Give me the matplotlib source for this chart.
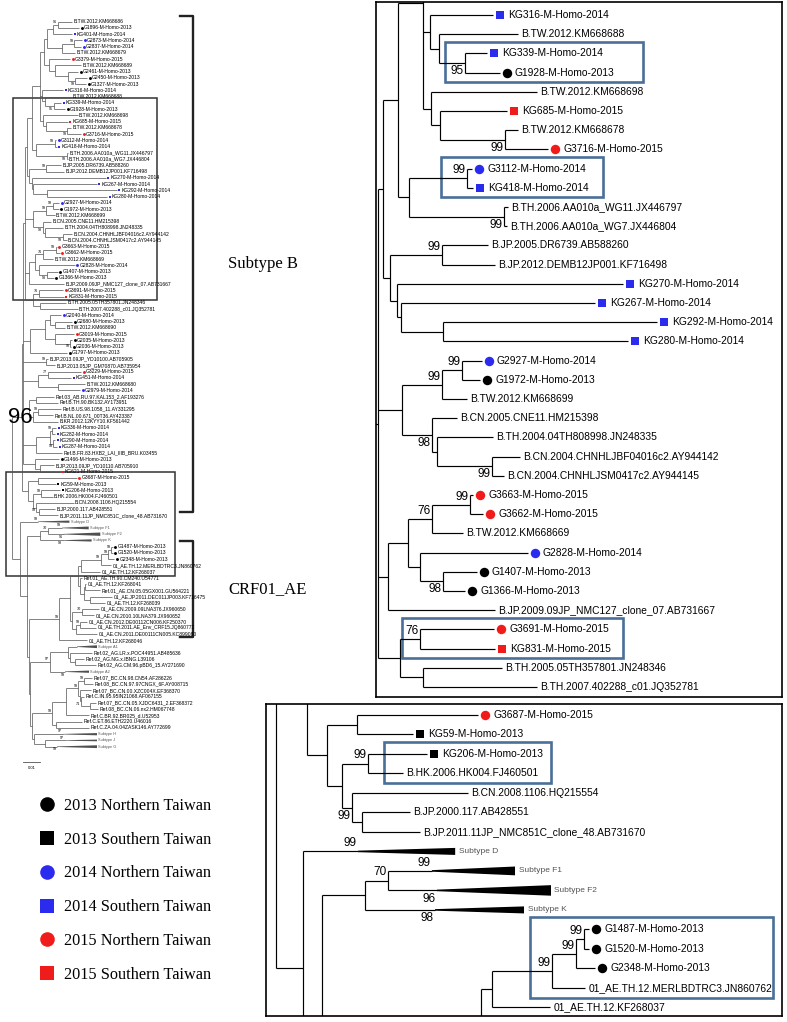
import matplotlib.pyplot as plt
from matplotlib import transforms
from matplotlib.lines import Line2D
from matplotlib.patches import Polygon, Rectangle

plt.rcParams['font.family'] = ['Liberation Sans', 'DejaVu Sans']

# ---------------------------------------------------------------- tree data
# Newick pieces, branch lengths in tree units (scale bar: 17 units = 0.01 subst./site)
B_TOP_A = "((B.TW.2012.KM668686:14,G1896-M-Homo-2013:21)96:5,KG401-M-Homo-2014:19):6"
B_TOP_B = "((G2873-M-Homo-2014:8,G2837-M-Homo-2014:7)99:12,B.TW.2012.KM668679:13):15"
B_TOP_C = ("(G3379-M-Homo-2015:21,(B.TW.2012.KM668689:26,(G2461-M-Homo-2013:10,"
           "(G2450-M-Homo-2013:12,G1327-M-Homo-2013:11)99:7):13):6):5")
B_KG316 = ("(KG316-M-Homo-2014:20.6,(B.TW.2012.KM668688:25.9,"
           "(KG339-M-Homo-2014:7.3,G1928-M-Homo-2013:11.5)95:8.5):2.9):2.4")
B_KG685 = ("(B.TW.2012.KM668698:34.8,(KG685-M-Homo-2015:21.9,"
           "(B.TW.2012.KM668678:4.2,G3716-M-Homo-2015:14.1)99:21.3):3):2.7")
B_G3112 = ("((G3112-M-Homo-2014:1.7,KG418-M-Homo-2014:2)99:19,"
           "(B.TH.2006.AA010a_WG11.JX446797:1.3,B.TH.2006.AA010a_WG7.JX446804:0.8)99:31.2):3.6")
B_KG270 = ("((B.JP.2005.DR6739.AB588260:15.1,B.JP.2012.DEMB12JP001.KF716498:17.4)99:17,"
           "(KG270-M-Homo-2014:74.1,(KG267-M-Homo-2014:63.6,"
           "(KG292-M-Homo-2014:70.2,KG280-M-Homo-2014:60.7):13.7):1.3):2.3):2.3")
B_G2927 = ("(((G2927-M-Homo-2014:6.5,G1972-M-Homo-2013:5.9)99:6.6,B.TW.2012.KM668699:8.2)99:13.1,"
           "(B.CN.2005.CNE11.HM215398:8.2,(B.TH.2004.04TH808998.JN248335:18.3,"
           "(B.CN.2004.CHNHLJBF04016c2.AY944142:9.1,B.CN.2004.CHNHLJSM0417c2.AY944145:3.8)99:18.1)"
           ":1.7)98:9.8):7.9")
B_G3663 = ("((((G3663-M-Homo-2015:1,G3662-M-Homo-2015:4.3)99:12.5,B.TW.2012.KM668669:10.2)76:7.8,"
           "(G2828-M-Homo-2014:35.4,(G1407-M-Homo-2013:11.2,G1366-M-Homo-2013:7.3)98:7.5):3.9):6.6,"
           "B.JP.2009.09JP_NMC127_clone_07.AB731667:35.1):3.3")
B_G3691 = ("((G3691-M-Homo-2015:24.3,KG831-M-Homo-2015:24.5)76:6.6,"
           "(B.TH.2005.05TH357801.JN248346:25.9,B.TH.2007.402288_c01.JQ352781:37.4):7.6):7.2")
B_G2040 = ("(((G2040-M-Homo-2014:11,(G2680-M-Homo-2013:17,B.TW.2012.KM668690:10):5):5,"
           "(G3019-M-Homo-2015:19,(G2035-M-Homo-2013:2,G2036-M-Homo-2013:1)99:15):10):15,"
           "G1797-M-Homo-2013:37):7")
B_JP13 = "(B.JP.2013.09JP_YD10100.AB705905:2,B.JP.2013.05JP_GM70870.AB735954:9)99:23"
B_G3229 = ("((G3229-M-Homo-2015:33,KG451-M-Homo-2014:23)77:10,"
           "(B.TW.2012.KM668680:27,G2979-M-Homo-2014:22):20):15")
B_REF = ("((Ref.03_AB.RU.97.KAL153_2.AF193276:18,Ref.B.TH.90.BK132.AY173951:22):7,"
         "((Ref.B.US.98.1058_11.AY331295:23,Ref.B.NL.00.671_00T36.AY423387:15)99:5,"
         "B.KR.2012.12KYY10.KF561442:25):4):6")
B_KG336 = ("(((KG336-M-Homo-2014:4,KG282-M-Homo-2014:3)99:2,(KG290-M-Homo-2014:2,KG287-M-Homo-2014:4)99:3)"
           ":14,Ref.B.FR.83.HXB2_LAI_IIIB_BRU.K03455:26):13")
B_G1466 = "(G1466-M-Homo-2013:24,(B.JP.2013.09JP_YD10110.AB705910:14,KG621-M-Homo-2015:20):5):12"
B_G3687 = ("((G3687-M-Homo-2015:39.1,KG59-M-Homo-2013:18.1):9.7,"
           "((KG206-M-Homo-2013:19,B.HK.2006.HK004.FJ460501:11.3)99:8.3,"
           "(B.CN.2008.1106.HQ215554:37.5,(B.JP.2000.117.AB428551:15.4,"
           "B.JP.2011.11JP_NMC851C_clone_48.AB731670:18.6):3.4)99:3):5):6.3")

FK_GROUP = "((Subtype F1:14.2,Subtype F2:15.8)70:7.4,Subtype K:22.6):13.8"
AE_G1487 = ("((((G1487-M-Homo-2013:1.6,G1520-M-Homo-2013:1.6)99:2.6,G2348-M-Homo-2013:6.1)99:7.8,"
            "01_AE.TH.12.MERLBDTRC3.JN860762:10.7)99:19.3,01_AE.TH.12.KF268037:18.7):3.6")
AE_REF = ("(Ref.01_AE.TH.90.CM240.U54771:2,((01_AE.TH.12.KF268041:1,"
          "Ref.01_AE.CN.05.05GX001.GU564221:15):1,(01_AE.JP.2011.DEC011JP003.KF716475:22,"
          "01_AE.TH.12.KF268039:15):6):4):2.3")
AE_CN = ("((01_AE.CN.2009.09LNA376.JX960650:17,01_AE.CN.2010.10LNA379.JX960652:12)70:10,"
         "((01_AE.CN.2012.DE00112CN006.KF250370:7,01_AE.TH.2011.AE_Env_CRF15.JQ860772:16)99:4,"
         "01_AE.CN.2011.DE00111CN005.KC899080:21):4):2")
A_GROUP = ("((Subtype A1:9,(Ref.02_AG.LR.x.POC44951.AB485636:22,(Ref.02_AG.NG.x.IBNG.L39106:9,"
           "Ref.02_AG.CM.96.pBD6_15.AY271690:21):5):2):18,Subtype A2:15)97:20")
C_GROUP = ("((((Ref.07_BC.CN.98.CN54.AF286226:8,Ref.08_BC.CN.97.97CNGX_6F.AY008715:9)99:6,"
           "(Ref.07_BC.CN.00.XZC004X.EF368370:11,(Ref.C.IN.95.95IN21068.AF067155:3,"
           "(Ref.07_BC.CN.05.XJDC6431_2.EF368372:6,Ref.08_BC.CN.06.nx2.HM067748:8):9)71:1):2)99:12,"
           "Ref.C.BR.92.BR025_d.U52953:23):14,(Ref.C.ET.86.ETH2220.U46016:26,"
           "Ref.C.ZA.04.04ZASK146.AY772699:33):4)99:20.5")
HJG_GROUP = "(Subtype H:29.5,(Subtype J:20,Subtype G:12):11.5):2"

B_FIRST = f"(({B_TOP_A},{B_TOP_B}):3,{B_TOP_C}):4"
B_MAIN = (f"(((({B_FIRST},{B_KG316},{B_KG685}):8.1,{B_G3112}):4.9,{B_KG270}):1.7,"
          f"{B_G2927},{B_G3663},{B_G3691}):2.3")
SUBTYPE_B = f"(({B_MAIN},{B_G2040},{B_JP13},{B_G3229},{B_REF},{B_KG336},{B_G1466}):1.3,{B_G3687}):10"
CRF01_AE = f"((({AE_G1487},{AE_REF}):7.7,{AE_CN}):11,01_AE.TH.12.KF268046:28)99:30.5"
NON_B = f"(Subtype D:17.8,({FK_GROUP},({CRF01_AE},({A_GROUP},({C_GROUP},{HJG_GROUP}):1.5):1.5):2):6.2):8.6"
TREE = f"({SUBTYPE_B},{NON_B});"

# collapsed subtrees: depth of triangle, number of taxa, bootstrap
COLLAPSED = {
    'Subtype D': (31.3, 4, '99'),
    'Subtype F1': (26.8, 5, '99'),
    'Subtype F2': (36.8, 6, '96'),
    'Subtype K': (28.7, 4, '98'),
    'Subtype A1': (20, 5, ''),
    'Subtype A2': (24, 4, '99'),
    'Subtype H': (34, 4, '97'),
    'Subtype J': (32, 3, '97'),
    'Subtype G': (40, 5, '99'),
}
B_SUPPORT = '96'
SCALE_BAR = (17, '0.01')

YEAR_COLORS = {'2013': 'black', '2014': '#2b2bf0', '2015': '#f01c1c'}
REGION_MARKERS = {'Northern': 'o', 'Southern': 's'}
LEGEND_GROUPS = [('2013', 'Northern'), ('2013', 'Southern'), ('2014', 'Northern'),
                 ('2014', 'Southern'), ('2015', 'Northern'), ('2015', 'Southern')]
CLADE_BRACKETS = [('Subtype B', 'B.TW.2012.KM668686', 'B.JP.2011.11JP_NMC851C_clone_48.AB731670'),
                  ('CRF01_AE', 'G1487-M-Homo-2013', '01_AE.TH.12.KF268046')]
BOXES_TOP = [('KG339-M-Homo-2014', 'G1928-M-Homo-2013', 35.6, 100.5),
             ('G3112-M-Homo-2014', 'KG418-M-Homo-2014', 34.3, 87.4),
             ('G3691-M-Homo-2015', 'KG831-M-Homo-2015', 21.5, 94.0)]
BOXES_BOTTOM = [('KG206-M-Homo-2013', 'B.HK.2006.HK004.FJ460501', 34.8, 88.6),
                ('G1487-M-Homo-2013', '01_AE.TH.12.MERLBDTRC3.JN860762', 81.8, 160.2)]


def parse_newick(text):
    pos = 0

    def node():
        nonlocal pos
        n = {'children': [], 'name': '', 'length': 0.0}
        if text[pos] == '(':
            pos += 1
            while True:
                n['children'].append(node())
                ch = text[pos]
                pos += 1
                if ch == ')':
                    break
        start = pos
        while text[pos] not in ':,);':
            pos += 1
        n['name'] = text[start:pos]
        if text[pos] == ':':
            pos += 1
            start = pos
            while text[pos] not in ',);':
                pos += 1
            n['length'] = float(text[start:pos])
        return n

    return node()


def layout(n, x0, leaves):
    n['x'] = x0 + n['length']
    if n['children']:
        for c in n['children']:
            layout(c, n['x'], leaves)
        n['y'] = (n['children'][0]['y'] + n['children'][-1]['y']) / 2
        n['rows'] = (n['children'][0]['rows'][0], n['children'][-1]['rows'][1])
    else:
        n['y'] = len(leaves)
        n['rows'] = (n['y'], n['y'])
        leaves.append(n)


def mrca(n, r0, r1):
    for c in n['children']:
        if c['rows'][0] <= r0 and c['rows'][1] >= r1:
            return mrca(c, r0, r1)
    return n


def leaf_style(name):
    if name.startswith('KG'):
        region = 'Southern'
    elif name.startswith('G') and name[1].isdigit():
        region = 'Northern'
    else:
        return None
    return REGION_MARKERS[region], YEAR_COLORS[name[-4:]]


def shift(ax, dx):
    return transforms.offset_copy(ax.transData, fig=ax.figure, x=dx, y=0, units='dots')


BS_FONT = ['Liberation Sans Narrow', 'Liberation Sans']


def draw_node(ax, n, st, rows, parent_x=None, last=False):
    # rows: (first, last) visible row range; labels outside it are not drawn
    x, y = n['x'], n['y']
    shown = rows[0] <= y <= rows[1]
    kw = dict(color=st['line'], lw=st['lw'], solid_capstyle='butt')
    if parent_x is not None:
        ax.plot([parent_x, x], [y, y], **kw)
    support = n['name'] if n['children'] else ''
    if n['children']:
        kids = n['children']
        ax.plot([x, x], [kids[0]['y'], kids[-1]['y']], **kw)
        for i, c in enumerate(kids):
            draw_node(ax, c, st, rows, x, i == len(kids) - 1)
    elif n['name'] in COLLAPSED:
        depth, ntaxa, support = COLLAPSED[n['name']]
        h = 0.09 * ntaxa
        ax.add_patch(Polygon([(x, y - 0.04), (x + depth, y - h / 2), (x + depth, y + h / 2),
                              (x, y + 0.04)], closed=True, fc=st['line'], ec='none'))
        if shown:
            ax.text(x + depth, y, n['name'], transform=shift(ax, st['plain_dx']),
                    fontsize=st['sub_fs'], color='#555555', va='center', clip_on=True)
    elif shown:
        style = leaf_style(n['name'])
        dx = st['plain_dx']
        if style:
            ax.plot(x, y, ls='none', marker=style[0], color=style[1], ms=st['ms'][style[0]],
                    mew=0, transform=shift(ax, st['mark_dx']))
            dx = st['text_dx']
        ax.text(x, y, n['name'], transform=shift(ax, dx), fontsize=st['fs'],
                va='center', clip_on=True)
    if support and parent_x is not None:
        dy = st['bs_dy'] if last else -st['bs_dy']
        if rows[0] <= y + dy <= rows[1]:
            ax.text(x, y + dy, support, transform=shift(ax, -st['bs_gap']), ha='right',
                    va='center', fontsize=st['bs_fs'], family=BS_FONT, clip_on=True)


root = parse_newick(TREE)
leaves = []
layout(root, 0.0, leaves)
ROW = {lf['name']: lf['y'] for lf in leaves}

LEFT_STYLE = dict(line='#505050', lw=0.5, fs=3.6, bs_fs=2.7, sub_fs=2.8, ms={'o': 2.1, 's': 1.8},
                  mark_dx=2.5, text_dx=4.8, plain_dx=1.5, bs_dy=0.45, bs_gap=0.6)
RIGHT_STYLE = dict(line='black', lw=0.85, fs=7.4, bs_fs=8.5, sub_fs=6.0, ms={'o': 6.8, 's': 5.8},
                   mark_dx=7, text_dx=15, plain_dx=3.5, bs_dy=0.42, bs_gap=1.5)
BOX_BLUE = '#4a6f98'

fig = plt.figure(figsize=(7.87, 10.22), dpi=100)

# overview tree, whole figure, 1 unit = 1 pixel horizontally
ax = fig.add_axes([0, 0, 1, 1])
ax.set_xlim(-11.7, 775.3)
ax.set_ylim(160.05, -3.47)
ax.axis('off')
draw_node(ax, root, LEFT_STYLE, (-1, len(leaves)))

b_node = mrca(root, ROW[CLADE_BRACKETS[0][1]], ROW[CLADE_BRACKETS[0][2]])
ax.text(b_node['x'] - 1.7, b_node['y'], B_SUPPORT, fontsize=16, ha='center', va='center')

for label, first, last in CLADE_BRACKETS:
    top, bottom = ROW[first] - 0.95, ROW[last] - 0.5
    ax.plot([168.3, 181.3, 181.3, 168.3], [top, top, bottom, bottom], color='#222222', lw=1.7)
    ax.text(216.3, (top + bottom) / 2, label, fontsize=12, family='Liberation Serif',
            va='center')

for x0, x1, r0, r1 in [(1.3, 145.3, 12.2, 44.5), (-5.7, 163.3, 72.05, 88.7)]:
    ax.add_patch(Rectangle((x0, r0), x1 - x0, r1 - r0, fill=False, ec='#333333', lw=1.1))

bar_len, bar_label = SCALE_BAR
ax.plot([11.3, 11.3 + bar_len], [118.4, 118.4], color='#505050', lw=0.6)
ax.text(11.3 + bar_len / 2, 119.4, bar_label, fontsize=3, ha='center', va='center')

# zoomed views
views = [([376 / 787, 1 - 697 / 1022, 406 / 787, 695 / 1022], (13.0, 146.1), (46.52, 10.32), BOXES_TOP),
         ([266 / 787, 6 / 1022, 516 / 787, 312 / 1022], (-3.31, 163.1), (88.44, 72.44), BOXES_BOTTOM)]
for rect, xlim, ylim, boxes in views:
    zax = fig.add_axes(rect)
    zax.set_xlim(*xlim)
    zax.set_ylim(*ylim)
    zax.set_xticks([])
    zax.set_yticks([])
    for sp in zax.spines.values():
        sp.set_linewidth(1.2)
    draw_node(zax, root, RIGHT_STYLE, (ylim[1] + 0.3, ylim[0] - 0.3))
    for first, last, x0, x1 in boxes:
        r0, r1 = ROW[first] - 0.62, ROW[last] + 0.5
        zax.add_patch(Rectangle((x0, r0), x1 - x0, r1 - r0, fill=False, ec=BOX_BLUE, lw=1.9))

handles = [Line2D([], [], ls='none', marker=REGION_MARKERS[r], color=YEAR_COLORS[yr], ms=10.5, mew=0)
           for yr, r in LEGEND_GROUPS]
labels = [f'{yr} {r} Taiwan' for yr, r in LEGEND_GROUPS]
fig.legend(handles, labels, loc='upper left', bbox_to_anchor=(0.0494, 0.2195), frameon=False,
           prop={'family': 'Liberation Serif', 'size': 11.7}, handlelength=1.0,
           handletextpad=0.55, labelspacing=1.1, borderpad=0, borderaxespad=0)

fig.savefig('out.png', dpi=100)
